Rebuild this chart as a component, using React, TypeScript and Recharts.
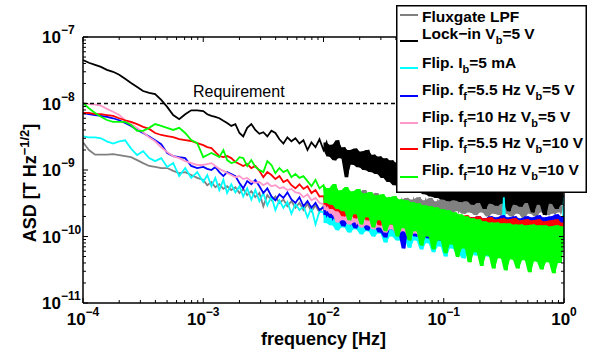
import React from 'react';
import { ComposedChart, Line, Area, XAxis, YAxis, ReferenceLine, Legend } from 'recharts';

// frequency grid: mantissas per decade
const M20 = [1.0, 1.12, 1.26, 1.41, 1.58, 1.78, 2.0, 2.24, 2.51, 2.82, 3.16, 3.55, 3.98, 4.47, 5.01, 5.62, 6.31, 7.08, 7.94, 8.91];
const M30 = [
  1.0, 1.08, 1.17, 1.26, 1.36, 1.47, 1.58, 1.71, 1.85, 2.0, 2.15, 2.32, 2.51, 2.71, 2.93,
  3.16, 3.41, 3.69, 3.98, 4.3, 4.64, 5.01, 5.41, 5.84, 6.31, 6.81, 7.36, 7.94, 8.58, 9.26,
];
const M40 = [
  1.0, 1.06, 1.12, 1.19, 1.26, 1.33, 1.41, 1.5, 1.58, 1.68, 1.78, 1.88, 2.0, 2.11, 2.24, 2.37, 2.51, 2.66, 2.82, 2.99,
  3.16, 3.35, 3.55, 3.76, 3.98, 4.22, 4.47, 4.73, 5.01, 5.31, 5.62, 5.96, 6.31, 6.68, 7.08, 7.5, 7.94, 8.41, 8.91, 9.44,
];
const FREQ = [
  ...M20.map((m) => m * 1e-4),
  ...M30.map((m) => m * 1e-3),
  ...M40.map((m) => m * 1e-2),
  ...M40.map((m) => m * 1e-1),
  1,
];

// ASD in units of 1e-10 T/sqrt(Hz)
const FLUXGATE = [
  26, 20, 17, 17, 17, 17.3, 16.8, 16.2, 15.6, 14.1, 12.7, 11.5, 11.1, 10.7, 10.7, 9.7, 9.0, 9.3, 8.4, 7.6,
  7.1, 5.9, 6.6, 5.5, 6.1, 5.2, 5.7, 5.0, 5.5, 4.5, 5.2, 4.2, 4.8, 3.9, 4.5,
  2.85, 4.2, 3.5, 4.0, 3.2, 3.6, 2.85, 3.4, 2.7, 3.2, 2.5, 3.1, 2.4, 2.95, 2.3,
  2.9, 2.2, 3.2, 2.0, 3.5, 2.2, 3.8, 2.1, 4.0, 2.3,
  4.3, 2.2, 4.6, 2.4, 5.0, 2.2, 4.2, 2.5, 4.5, 2.3,
  3.9, 2.6, 3.6, 2.4, 4.0, 2.5, 3.5, 2.3, 3.8, 2.6,
  3.6, 2.4, 3.9, 2.5, 3.5, 2.3, 3.8, 2.6, 3.4, 2.4,
  3.8, 2.5, 3.4, 2.2, 3.6, 2.4, 3.3, 2.2, 3.6, 2.3,
  3.4, 2.1, 3.8, 2.3, 3.3, 2.0, 3.5, 2.2, 3.2, 2.1,
  3.5, 2.2, 3.3, 2.0, 3.6, 2.2, 3.2, 1.9, 3.5, 2.2,
  3.3, 2.0, 3.6, 2.3, 3.4, 2.1, 3.6, 2.2, 3.5, 2.3,
  2.9,
];
const LOCKIN = [
  450, 410, 380, 355, 320, 300, 270, 235, 203, 177, 154, 144, 139, 113, 89, 67, 58, 69, 79, 79,
  77, 69, 65, 63, 60, 55, 51, 46, 49, 36, 32, 43, 49, 40, 35,
  37, 32, 39, 36, 29, 25, 31, 27, 30, 25, 28, 20, 26, 22, 29,
  20, 26, 16, 24, 14, 28, 15, 22, 7.8, 20,
  12, 21, 11, 19, 10, 20, 9.3, 17, 8.7, 16,
  7.6, 15, 6.6, 14, 5.9, 13, 5.7, 12, 5.3, 11.5,
  5.0, 10.7, 4.6, 10, 4.3, 9.7, 4.0, 9.3, 3.8, 8.7,
  3.6, 8.4, 3.4, 8.1, 3.5, 8.1, 3.3, 7.8, 3.4, 7.8,
  3.0, 7.6, 3.2, 7.6, 2.6, 7.6, 3.1, 7.3, 2.9, 7.3,
  3.1, 7.1, 2.4, 7.1, 3.0, 7.1, 2.8, 6.8, 3.2, 6.8,
  2.3, 6.8, 3.0, 6.6, 2.1, 6.6, 3.1, 6.6, 2.6, 6.4,
  3.0,
];
const FLIP_IB = [
  32, 31, 31, 30, 27, 25, 27, 28, 21, 16.8, 19.2, 15.1, 13.6, 15.1, 11.1, 12.7, 8.1, 10.7, 7.6, 9.3,
  6.6, 8.4, 5.7, 7.6, 5.0, 7.1, 4.5, 6.1, 4.6, 5.7, 4.0, 5.3, 3.6, 5.0, 3.4,
  4.5, 2.95, 4.0, 2.5, 3.5, 2.7, 3.3, 2.2, 3.1, 2.5, 2.85, 1.94, 2.7, 1.52, 2.4,
  2.3, 1.6, 2.5, 1.47, 2.24, 1.24, 2.3, 1.37, 2.1, 1.15,
  2.16, 1.28, 1.94, 1.08, 2.0, 1.2, 1.81, 1.0, 1.88, 1.11,
  1.69, 0.81, 1.75, 1.0, 1.58, 0.87, 1.63, 0.94, 1.47, 0.68,
  1.52, 0.87, 1.37, 0.64, 1.42, 0.79, 1.28, 0.58, 1.33, 0.71,
  1.24, 0.5, 1.28, 0.66, 1.2, 0.56, 1.24, 0.47, 1.15, 0.62,
  1.2, 0.52, 1.11, 0.6, 1.15, 0.5, 1.11, 0.58, 1.08, 0.49,
  3.9, 0.56, 1.11, 0.47, 1.08, 0.54, 1.04, 0.45, 1.08, 0.52,
  1.0, 0.47, 1.04, 0.5, 0.97, 0.45, 1.0, 0.49, 0.97, 0.47,
  3.9,
];
const FLIP_55_5 = [
  72, 69, 67, 65, 63, 60, 56, 51, 46, 40, 36, 32, 28, 24.5, 18, 16.2, 15.6, 15.1, 11.5, 10.7,
  11.1, 10.4, 10, 11.1, 9.3, 8.1, 9.3, 8.7, 8.1, 6.4, 5.3, 6.8, 6.1, 7.1, 5.7,
  4.5, 5.3, 4.0, 3.5, 4.3, 3.8, 4.6, 3.6, 3.2, 3.9, 2.85, 3.4, 2.7, 3.2, 2.5,
  2.76, 2.1, 2.95, 1.9, 2.57, 1.75, 2.66, 1.42, 2.48, 1.63,
  2.4, 1.33, 2.31, 1.52, 2.24, 1.24, 2.16, 1.42, 2.09, 1.15,
  2.16, 0.97, 2.01, 1.28, 1.94, 1.08, 2.01, 0.66, 1.88, 1.15,
  1.94, 1.0, 1.81, 1.11, 1.88, 0.94, 1.75, 1.08, 1.81, 0.87,
  1.75, 1.0, 1.88, 0.9, 1.81, 1.04, 1.94, 0.94, 1.88, 1.0,
  1.94, 0.9, 2.01, 1.04, 1.88, 0.94, 2.01, 1.0, 1.94, 0.9,
  2.09, 1.04, 1.94, 0.94, 2.01, 1.0, 1.88, 0.9, 2.01, 1.04,
  1.94, 0.97, 2.09, 1.0, 1.94, 0.94, 2.01, 1.04, 2.16, 0.97,
  2.01,
];
const FLIP_10_5 = [
  102, 98, 96, 93, 83, 75, 67, 56, 49, 43, 37, 31, 27, 22, 18.6, 16.2, 15.1, 13.6, 12.7, 11.9,
  11.9, 12.3, 12.7, 11.5, 10.4, 9.7, 9.0, 8.4, 7.8, 8.1, 7.3, 7.6, 6.8, 6.4, 6.6,
  5.9, 6.4, 5.7, 5.9, 5.3, 5.5, 5.0, 5.2, 4.6, 4.5, 3.9, 4.3, 3.5, 3.8, 3.2,
  3.06, 2.5, 2.85, 2.2, 2.66, 1.63, 2.76, 1.75, 2.48, 1.52,
  2.57, 1.63, 2.31, 1.37, 2.4, 1.47, 2.16, 1.28, 2.24, 1.37,
  2.01, 1.15, 2.09, 1.28, 1.88, 1.08, 1.94, 1.2, 1.75, 0.97,
  1.81, 1.11, 1.63, 0.87, 1.69, 1.04, 1.58, 0.84, 1.63, 0.97,
  1.52, 0.81, 1.58, 0.94, 1.47, 0.79, 1.52, 0.9, 1.42, 0.76,
  1.47, 0.87, 1.37, 0.73, 1.42, 0.84, 1.33, 0.71, 1.37, 0.81,
  1.28, 0.68, 1.33, 0.79, 1.24, 0.66, 1.28, 0.76, 1.2, 0.64,
  1.24, 0.73, 1.15, 0.62, 1.2, 0.71, 1.11, 0.62, 1.15, 0.68,
  1.11,
];
const FLIP_55_10 = [
  72, 72, 69, 69, 67, 65, 60, 56, 53, 49, 44.5, 41.5, 36, 33.6, 32.4, 31.3, 29.2, 28.2, 27.3, 25.4,
  23.7, 22.1, 21.3, 18.6, 16.2, 15.6, 16.2, 15.1, 13.2, 12.3, 11.5, 12.3, 10.7, 11.5, 9.7,
  7.8, 9.3, 8.4, 7.3, 8.1, 6.6, 7.1, 5.9, 5.3, 6.1, 5.2, 5.7, 4.5, 5.0, 4.0,
  4.04, 3.0, 4.33, 2.6, 4.98, 2.4, 3.9, 2.01, 3.64, 2.24,
  3.4, 1.88, 3.52, 2.09, 3.17, 1.75, 3.28, 1.94, 2.95, 1.47,
  3.06, 1.81, 2.76, 1.52, 2.85, 1.69, 2.57, 1.37, 2.66, 1.58,
  2.48, 1.28, 2.4, 1.47, 2.31, 1.2, 2.24, 1.37, 2.24, 1.11,
  2.16, 1.28, 2.09, 1.04, 2.16, 1.2, 2.01, 0.97, 2.09, 1.11,
  1.94, 0.94, 2.01, 1.08, 1.88, 0.9, 1.94, 1.04, 1.81, 0.87,
  1.88, 1.0, 1.81, 0.87, 1.88, 0.97, 1.75, 0.84, 1.81, 1.0,
  1.75, 0.87, 1.81, 0.97, 1.69, 0.84, 1.75, 0.94, 1.81, 0.87,
  1.63,
];
const FLIP_10_10 = [
  102, 85, 72, 63, 56.5, 53, 53, 53, 47.5, 38.7, 38.7, 43, 49, 46, 43, 40, 43, 36, 28.2, 25.4,
  15.6, 16.8, 18, 16.8, 15.6, 19.9, 14.1, 12.7, 13.2, 15.6, 15.1, 11.5, 14.1, 11.1, 10,
  9.3, 13.6, 11.9, 9.0, 10.7, 9.3, 10, 7.8, 8.7, 7.6, 8.1, 6.8, 5.7, 7.1, 5.3,
  5.93, 3.2, 5.34, 3.0, 6.14, 2.6, 4.98, 2.4, 5.53, 1.75,
  4.81, 2.16, 5.16, 1.52, 4.49, 1.94, 4.65, 1.37, 4.18, 1.75,
  4.33, 1.2, 3.9, 1.52, 4.04, 1.0, 3.64, 1.33, 3.52, 0.87,
  3.28, 1.2, 3.17, 0.73, 2.95, 1.0, 2.85, 0.64, 2.76, 0.87,
  2.57, 0.56, 2.48, 0.76, 2.31, 0.49, 2.16, 0.66, 2.01, 0.41,
  1.88, 0.58, 1.81, 0.36, 1.69, 0.52, 1.63, 0.33, 1.63, 0.47,
  1.58, 0.31, 1.58, 0.45, 1.52, 0.33, 1.52, 0.44, 1.47, 0.29,
  1.52, 0.42, 1.47, 0.32, 1.47, 0.41, 1.42, 0.28, 1.47, 0.4,
  1.42,
];

const REQUIREMENT = 1e-8;
const X_DECADES = [-4, -3, -2, -1, 0];
const Y_DECADES = [-11, -10, -9, -8, -7];
const MINOR = [1, 2, 3, 4, 5, 6, 7, 8, 9];
// above 1e-2 Hz the spectra are so dense they read as filled bands
const DENSE_FROM = 50;

const SERIES = [
  { key: 'fluxgate', name: 'Fluxgate LPF', color: '#808080', values: FLUXGATE },
  { key: 'lockin', name: 'Lock−in V_{b}=5 V', color: '#000000', values: LOCKIN },
  { key: 'flipIb', name: 'Flip. I_{b}=5 mA', color: '#00ffff', values: FLIP_IB },
  { key: 'flip55v5', name: 'Flip. f_{f}=5.5 Hz V_{b}=5 V', color: '#0000ff', values: FLIP_55_5 },
  { key: 'flip10v5', name: 'Flip. f_{f}=10 Hz V_{b}=5 V', color: '#ff99cc', values: FLIP_10_5 },
  { key: 'flip55v10', name: 'Flip. f_{f}=5.5 Hz V_{b}=10 V', color: '#ff0000', values: FLIP_55_10 },
  { key: 'flip10v10', name: 'Flip. f_{f}=10 Hz V_{b}=10 V', color: '#00ff00', values: FLIP_10_10 },
];

// single-sample spikes stay as thin line strokes, not part of the band
const isSpike = (v: number[], i: number) => {
  const nb = [v[i - 2], v[i + 2]].filter((n) => n !== undefined);
  return nb.length > 0 && v[i] > 2 * Math.max(...nb);
};

const band = (v: number[], i: number) => {
  if (i < DENSE_FROM) return undefined;
  const pts = [i, i + 1].filter((j) => j < v.length && !isSpike(v, j)).map((j) => v[j]);
  if (!pts.length) pts.push(v[i]);
  return [Math.min(...pts) * 1e-10, Math.max(...pts) * 1e-10];
};

const data = FREQ.map((f, i) => {
  const row: Record<string, any> = { f };
  SERIES.forEach((s) => {
    row[s.key] = s.values[i] * 1e-10;
    row[`${s.key}Band`] = band(s.values, i);
  });
  return row;
});

const logTicks = (decades: number[]) => {
  const out: number[] = [];
  decades.forEach((d, i) => {
    if (i === decades.length - 1) out.push(Number(`1e${d}`));
    else MINOR.forEach((m) => out.push(m * Number(`1e${d}`)));
  });
  return out;
};
const X_TICKS = logTicks(X_DECADES);
const Y_TICKS = logTicks(Y_DECADES);

const FONT = "'Liberation Sans', Arial, Helvetica, sans-serif";

const isMajor = (v: number) => Math.abs(Math.log10(v) - Math.round(Math.log10(v))) < 1e-6;
const expText = (v: number) => {
  const e = Math.round(Math.log10(v));
  return e < 0 ? `−${-e}` : `${e}`;
};

const makeTick = (side: 'bottom' | 'top' | 'left' | 'right') => (props: any) => {
  const { x, y, payload } = props;
  const v = payload.value;
  const major = isMajor(v);
  const len = major ? 5 : 3;
  let x2 = x;
  let y2 = y;
  if (side === 'bottom') y2 = y - len;
  else if (side === 'top') y2 = y + len;
  else if (side === 'left') x2 = x + len;
  else x2 = x - len;
  return (
    <g>
      <line x1={x} y1={y} x2={x2} y2={y2} stroke="#000" strokeWidth={1} />
      {major && side === 'bottom' && (
        <text x={x} y={y + 22} textAnchor="middle" fontFamily={FONT} fontWeight="bold" fontSize={17} fill="#000">
          <tspan>10</tspan>
          <tspan dy={-9} fontSize={12}>{expText(v)}</tspan>
        </text>
      )}
      {major && side === 'left' && (
        <text x={x - 41} y={y + 6} textAnchor="start" fontFamily={FONT} fontWeight="bold" fontSize={17} fill="#000">
          <tspan>10</tspan>
          <tspan dy={-9} fontSize={12}>{expText(v)}</tspan>
        </text>
      )}
    </g>
  );
};

const rich = (label: string, subSize: number) => {
  const parts = label.split(/_\{([^}]*)\}/);
  return parts.map((p, i) =>
    i % 2 ? (
      <tspan key={i} dy={5} fontSize={subSize}>{p}</tspan>
    ) : (
      <tspan key={i} dy={i ? -5 : 0}>{p}</tspan>
    )
  );
};

const LEG_LINE_Y = [10, 36, 63, 91, 118, 144, 172];
const LEG_TEXT_Y = [17, 33.5, 62.5, 90, 117, 143, 170];

const LegendBox = () => (
  <svg width={191} height={188} style={{ display: 'block' }}>
    <rect x={0.75} y={0.75} width={189.5} height={186.5} fill="#fff" stroke="#000" strokeWidth={1.5} />
    {SERIES.map((s, i) => (
      <g key={s.key}>
        <line x1={4} x2={22} y1={LEG_LINE_Y[i]} y2={LEG_LINE_Y[i]} stroke={s.color} strokeWidth={2} />
        <text x={26} y={LEG_TEXT_Y[i]} fontFamily={FONT} fontWeight="bold" fontSize={15.5} fill="#000">
          {rich(s.name, 11)}
        </text>
      </g>
    ))}
  </svg>
);

const axisLine = { stroke: '#000', strokeWidth: 1.5 };

export default function App() {
  return (
    <div style={{ position: 'absolute', left: 0, top: 0, width: 594, height: 352, background: '#fff' }}>
      <ComposedChart width={594} height={352} data={data} margin={{ top: 27, right: 20, bottom: 9, left: 23 }}>
        <XAxis
          xAxisId="b"
          dataKey="f"
          type="number"
          scale="log"
          domain={[1e-4, 1]}
          allowDataOverflow
          ticks={X_TICKS}
          interval={0}
          tickLine={false}
          tickSize={0}
          tickMargin={0}
          axisLine={axisLine}
          tick={makeTick('bottom')}
          height={40}
          label={(p: any) => (
            <text
              x={p.viewBox.x + p.viewBox.width / 2}
              y={p.viewBox.y + 42}
              textAnchor="middle"
              fontFamily={FONT}
              fontWeight="bold"
              fontSize={18}
              fill="#000"
            >
              frequency [Hz]
            </text>
          )}
        />
        <XAxis
          xAxisId="t"
          orientation="top"
          dataKey="f"
          type="number"
          scale="log"
          domain={[1e-4, 1]}
          allowDataOverflow
          ticks={X_TICKS}
          interval={0}
          tickLine={false}
          tickSize={0}
          tickMargin={0}
          axisLine={axisLine}
          tick={makeTick('top')}
          height={10}
        />
        <YAxis
          yAxisId="l"
          type="number"
          scale="log"
          domain={[1e-11, 1e-7]}
          allowDataOverflow
          ticks={Y_TICKS}
          interval={0}
          tickLine={false}
          tickSize={0}
          tickMargin={0}
          axisLine={axisLine}
          tick={makeTick('left')}
          width={60}
          label={(p: any) => (
            <text
              transform={`translate(${p.viewBox.x + 13},183) rotate(-90)`}
              textAnchor="middle"
              fontFamily={FONT}
              fontWeight="bold"
              fontSize={18}
              fill="#000"
            >
              <tspan>ASD [T Hz</tspan>
              <tspan dy={-7} fontSize={13}>−1/2</tspan>
              <tspan dy={7}>]</tspan>
            </text>
          )}
        />
        <YAxis
          yAxisId="r"
          orientation="right"
          type="number"
          scale="log"
          domain={[1e-11, 1e-7]}
          allowDataOverflow
          ticks={Y_TICKS}
          interval={0}
          tickLine={false}
          tickSize={0}
          tickMargin={0}
          axisLine={axisLine}
          tick={makeTick('right')}
          width={10}
        />
        {SERIES.flatMap((s, i) => [
          <Area
            key={`${s.key}-band`}
            xAxisId="b"
            yAxisId="l"
            type="linear"
            dataKey={`${s.key}Band`}
            stroke="none"
            fill={s.color}
            fillOpacity={1}
            legendType="none"
            dot={false}
            activeDot={false}
            isAnimationActive={false}
            zIndex={100 + i * 2}
          />,
          <Line
            key={s.key}
            xAxisId="b"
            yAxisId="l"
            type="linear"
            dataKey={s.key}
            name={s.name}
            stroke={s.color}
            strokeWidth={1.8}
            dot={false}
            activeDot={false}
            isAnimationActive={false}
            zIndex={101 + i * 2}
          />,
        ])}
        <ReferenceLine
          xAxisId="b"
          yAxisId="l"
          y={REQUIREMENT}
          stroke="#000"
          strokeWidth={1.5}
          strokeDasharray="4 3"
          zIndex={200}
          label={(p: any) => (
            <text x={p.viewBox.x + 110} y={p.viewBox.y - 6.5} fontFamily={FONT} fontSize={16} fill="#000">
              Requirement
            </text>
          )}
        />
        <Legend
          layout="vertical"
          align="center"
          verticalAlign="middle"
          wrapperStyle={{ position: 'absolute', left: 396, top: 5, width: 191, height: 188 }}
          content={LegendBox}
        />
      </ComposedChart>
    </div>
  );
}
